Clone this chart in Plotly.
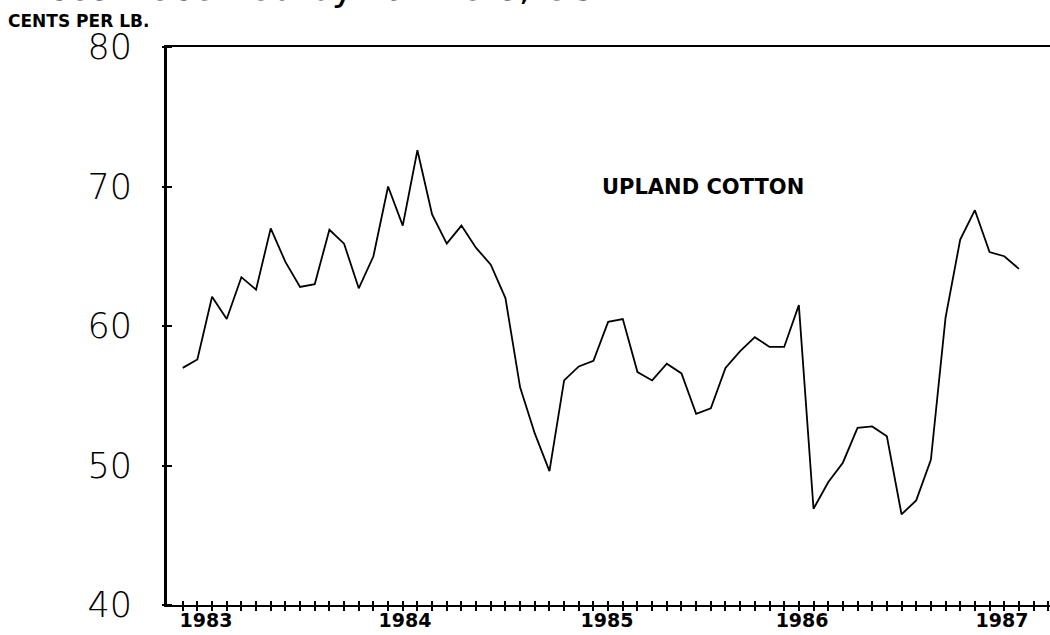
import plotly.graph_objects as go

# Monthly prices received by farmers, upland cotton (cents per lb.)
month_index = list(range(58))
price = [57.0, 57.6, 62.1, 60.5, 63.5, 62.6, 67.0, 64.6, 62.8, 63.0, 66.9, 65.9,
         62.7, 65.0, 70.0, 67.2, 72.6, 68.0, 65.9, 67.2, 65.6, 64.4, 62.0, 55.6,
         52.3, 49.6, 56.1, 57.1, 57.5, 60.3, 60.5, 56.7, 56.1, 57.3, 56.6, 53.7,
         54.1, 57.0, 58.2, 59.2, 58.5, 58.5, 61.5, 46.9, 48.8, 50.2, 52.7, 52.8,
         52.1, 46.5, 47.5, 50.4, 60.6, 66.2, 68.3, 65.3, 65.0, 64.1]

year_labels = ["1983", "1984", "1985", "1986", "1987"]
year_label_pos = [1.59, 15.15, 28.92, 42.22, 55.85]
month_ticks = list(range(60))
y_ticks = [40, 50, 60, 70, 80]

x_range = [-1.07, 59.12]
y_range = [40, 80]

PLOT_W, PLOT_H = 883, 558

fig = go.Figure()
fig.add_trace(go.Scatter(x=month_index, y=price, mode="lines",
                         line=dict(color="black", width=1.8),
                         showlegend=False, hoverinfo="skip"))
# helper (no visible mark) so that the overlay axes carrying the cross ticks are drawn
fig.add_trace(go.Scatter(x=[month_index[0]], y=[None], xaxis="x2", yaxis="y2",
                         mode="lines", showlegend=False, hoverinfo="skip"))

fig.update_layout(
    width=1050, height=635,
    paper_bgcolor="white", plot_bgcolor="white",
    margin=dict(l=167, r=0, t=47, b=30),
    showlegend=False,
    xaxis=dict(range=x_range, tickvals=year_label_pos, ticktext=year_labels,
               ticks="", showline=True, mirror=True, linecolor="black", linewidth=2,
               showgrid=False, zeroline=False, ticklabelstandoff=-3, automargin=False,
               tickfont=dict(family="DejaVu Sans", size=19, color="black", weight="bold")),
    # month tick crosses: free axis lifted 5 px above the x axis line, ticks 10 px downwards
    xaxis2=dict(range=x_range, overlaying="x", anchor="free", position=5 / PLOT_H,
                side="bottom", tickvals=month_ticks,
                ticks="outside", ticklen=10, tickwidth=1.5, tickcolor="black",
                showticklabels=False, showline=False, showgrid=False, zeroline=False,
                automargin=False),
    yaxis=dict(range=y_range, tickvals=y_ticks, ticks="", showline=True,
               linecolor="black", linewidth=3, showgrid=False, zeroline=False,
               ticklabelstandoff=25, automargin=False,
               tickfont=dict(family="DejaVu Sans", size=35, color="black", weight=300)),
    # value tick crosses: free axis 5 px right of the y axis line, ticks 10 px leftwards
    yaxis2=dict(range=y_range, overlaying="y", anchor="free", position=5 / PLOT_W,
                side="left", tickvals=y_ticks,
                ticks="outside", ticklen=10, tickwidth=1.5, tickcolor="black",
                showticklabels=False, showline=False, showgrid=False, zeroline=False,
                automargin=False),
    annotations=[
        dict(text="UPLAND COTTON", xref="paper", yref="paper",
             x=(703 - 167) / PLOT_W, y=(605 - 187) / PLOT_H, xanchor="center",
             yanchor="middle", showarrow=False,
             font=dict(family="DejaVu Sans", size=21, color="black", weight="bold")),
        dict(text="CENTS PER LB.", xref="paper", yref="paper",
             x=(6 - 167) / PLOT_W, y=1 + (47 - 21) / PLOT_H, xanchor="left",
             yanchor="middle", showarrow=False,
             font=dict(family="DejaVu Sans", size=17, color="black", weight="bold")),
        dict(text="Prices Received by Farmers, US", xref="paper", yref="paper",
             x=(-4 - 167) / PLOT_W, y=1 + (47 - 11.5) / PLOT_H, xanchor="left",
             yanchor="bottom", showarrow=False,
             font=dict(family="DejaVu Sans", size=38, color="black")),
    ],
)

fig.write_html("out.html", post_script="document.body.style.margin='0';",
               config={"displayModeBar": False})
